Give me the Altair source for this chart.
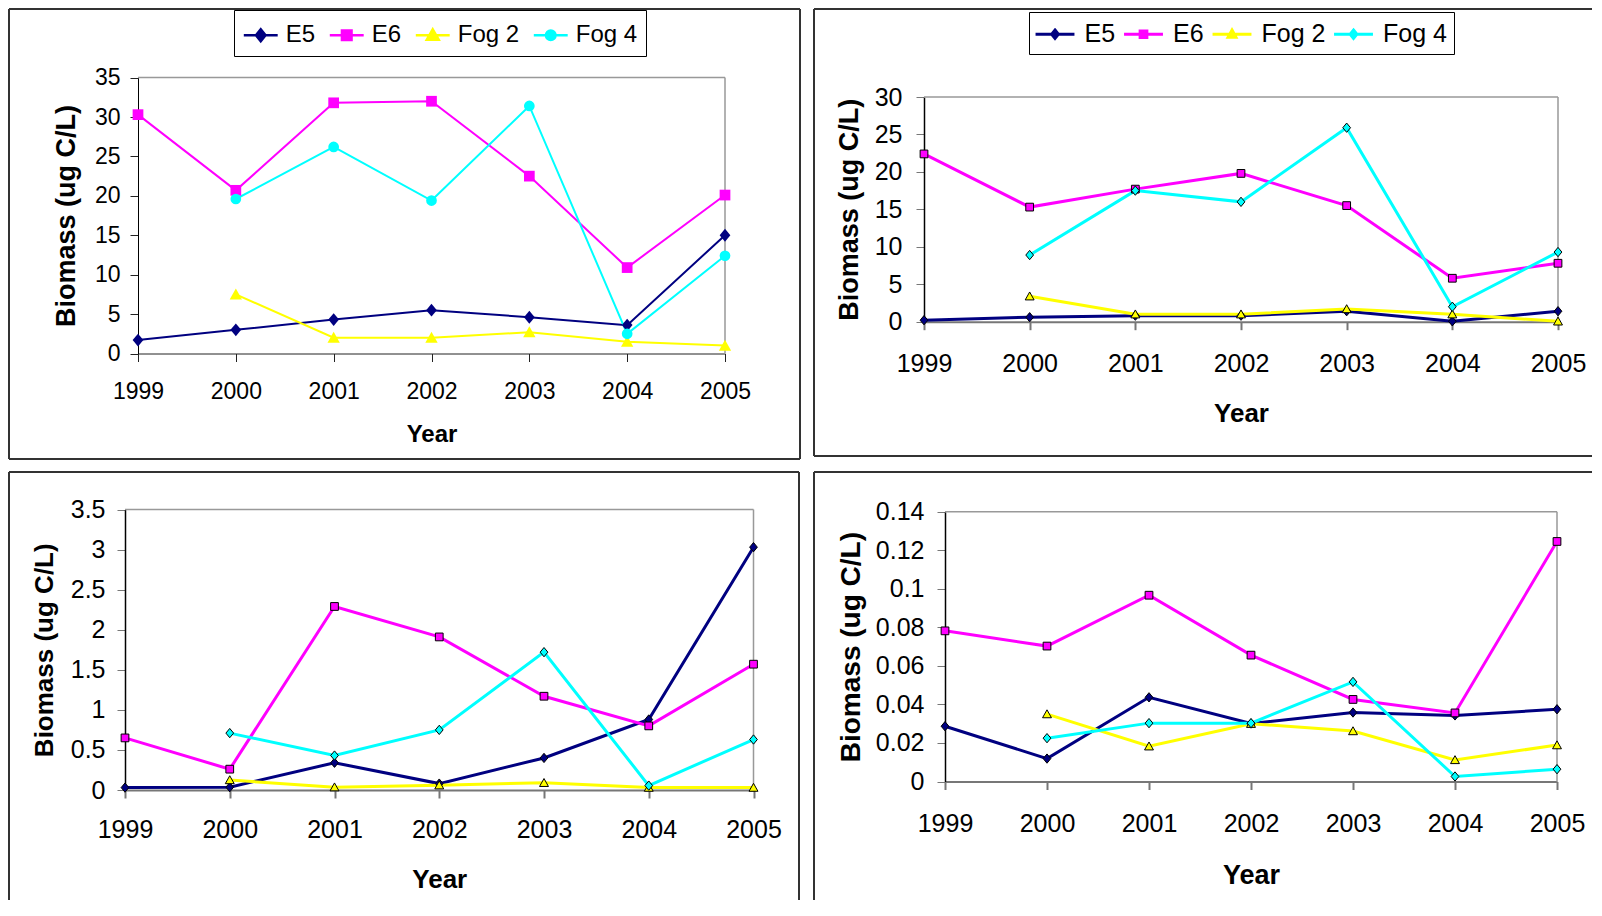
import altair as alt
import pandas as pd

YEARS = [1999, 2000, 2001, 2002, 2003, 2004, 2005]
SERIES = ["E5", "E6", "Fog 2", "Fog 4"]
COLORS = ["#000080", "#FF00FF", "#FFFF00", "#00FFFF"]

# top-left panel
A_E5 = [1.7, 3.0, 4.3, 5.5, 4.6, 3.6, 15.0]
A_E6 = [30.3, 20.7, 31.8, 32.0, 22.5, 10.9, 20.1]
A_FOG2 = [None, 7.5, 2.0, 2.0, 2.7, 1.5, 1.0]
A_FOG4 = [None, 19.6, 26.2, 19.4, 31.4, 2.5, 12.4]
A_TICKS = [0, 5, 10, 15, 20, 25, 30, 35]

# top-right panel
B_E5 = [0.2, 0.6, 0.8, 0.8, 1.4, 0.05, 1.4]
B_E6 = [22.4, 15.3, 17.7, 19.8, 15.5, 5.8, 7.8]
B_FOG2 = [None, 3.4, 1.0, 1.0, 1.7, 1.0, 0.05]
B_FOG4 = [None, 8.9, 17.5, 16.0, 25.9, 2.0, 9.3]
B_TICKS = [0, 5, 10, 15, 20, 25, 30]

# bottom-left panel
C_E5 = [0.03, 0.035, 0.34, 0.08, 0.40, 0.88, 3.03]
C_E6 = [0.65, 0.26, 2.29, 1.91, 1.17, 0.80, 1.57]
C_FOG2 = [None, 0.125, 0.035, 0.06, 0.09, 0.03, 0.03]
C_FOG4 = [None, 0.71, 0.43, 0.75, 1.72, 0.055, 0.63]
C_TICKS = [0, 0.5, 1, 1.5, 2, 2.5, 3, 3.5]

# bottom-right panel
D_E5 = [0.0287, 0.0119, 0.0437, 0.0301, 0.0358, 0.0343, 0.0375]
D_E6 = [0.0782, 0.0703, 0.0967, 0.0656, 0.0426, 0.0356, 0.1246]
D_FOG2 = [None, 0.035, 0.0183, 0.030, 0.0262, 0.0112, 0.0189]
D_FOG4 = [None, 0.0225, 0.0303, 0.0303, 0.0517, 0.0026, 0.0064]
D_TICKS = [0, 0.02, 0.04, 0.06, 0.08, 0.1, 0.12, 0.14]

FONT = "Liberation Sans"
FRAME_COLOR = "#333333"
PLOT_BORDER = "#999999"

DIAMOND = "M0,-1.2L1,0L0,1.2L-1,0Z"
SQUARE = "M-1,-1H1V1H-1Z"
TRIANGLE = "M0,-1.1L1.15,0.95H-1.15Z"
CIRCLE = "circle"

LEG_A_PATHS = [
    "M-1.13,0H1.13M0,-0.4L0.32,0L0,0.4L-0.32,0Z",
    "M-1.13,0H1.13M-0.32,-0.32H0.32V0.32H-0.32Z",
    "M-1.13,0H1.13M0,-0.4L0.4,0.3H-0.4Z",
    "M-1.13,0H1.13M-0.32,0A0.32,0.32 0 1 0 0.32,0A0.32,0.32 0 1 0 -0.32,0Z",
]
LEG_B_PATHS = [
    "M-1.39,0H1.39M0,-0.3L0.24,0L0,0.3L-0.24,0Z",
    "M-1.39,0H1.39M-0.24,-0.24H0.24V0.24H-0.24Z",
    "M-1.39,0H1.39M0,-0.3L0.28,0.22H-0.28Z",
    "M-1.39,0H1.39M0,-0.3L0.24,0L0,0.3L-0.24,0Z",
]


def make_df(series_values):
    rows = []
    for s, vals in zip(SERIES, series_values):
        for yr, v in zip(YEARS, vals):
            if v is not None:
                rows.append({"year": yr, "series": s, "value": v})
    return pd.DataFrame(rows)


def seg(x1, y1, x2, y2, color, width):
    enc = dict(x=alt.value(x1), y=alt.value(y1))
    if x2 != x1:
        enc["x2"] = alt.value(x2)
    if y2 != y1:
        enc["y2"] = alt.value(y2)
    return (
        alt.Chart(alt.Data(values=[{"k": 0}]))
        .mark_rule(color=color, strokeWidth=width)
        .encode(**enc)
    )


def panel(values, ticks, frame, plot, edges, st, lg=None):
    fx, fy, fr, fb = frame
    pl, pt, pr, pb = plot
    W, H = fr - fx, fb - fy
    xl, xr = pl - fx, pr - fx
    yt, yb = pt - fy, pb - fy
    df = make_df(values)
    x = alt.X(
        "year:Q",
        scale=alt.Scale(domain=[1999, 2005], range=[xl, xr], nice=False, zero=False),
        axis=alt.Axis(
            values=YEARS, format="d", title="Year", offset=-(H - yb),
            labelFontSize=st["tfs"], labelPadding=st["xlp"], tickSize=8,
            tickColor=st["xcol"], domainColor=st["xcol"], domainWidth=st["xdw"],
            tickWidth=st["xdw"], titleFontSize=st["xtfs"], titleX=(xl + xr) / 2,
            titleY=st["xty"], titleBaseline="top", titleAlign="center",
            labelFlush=False, labelOverlap=False, grid=False,
        ),
    )
    y = alt.Y(
        "value:Q",
        scale=alt.Scale(domain=[0, ticks[-1]], range=[yb, yt], nice=False, zero=True),
        axis=alt.Axis(
            values=ticks, format="~g", title="Biomass (ug C/L)", offset=-xl,
            labelFontSize=st["tfs"], labelPadding=st["ylp"], tickSize=8,
            tickColor=st["ytcol"], domainColor="black", domainWidth=st["ydw"],
            tickWidth=1, titleFontSize=st["ytfs"], titleX=st["ytx"],
            titleY=(yt + yb) / 2, titleBaseline="bottom", titleAlign="center",
            labelFlush=False, labelOverlap=False, grid=False,
        ),
    )
    color = alt.Color("series:N", scale=alt.Scale(range=COLORS), legend=None)
    base = alt.Chart(df).encode(x=x, y=y)

    layers = []
    if "top" in edges:
        layers.append(seg(0, 0, W, 0, FRAME_COLOR, 2))
    if "bottom" in edges:
        layers.append(seg(0, H, W, H, FRAME_COLOR, 2))
    if "left" in edges:
        layers.append(seg(0, 0, 0, H, FRAME_COLOR, 2))
    if "right" in edges:
        layers.append(seg(W, 0, W, H, FRAME_COLOR, 2))
    # plot-area border (top and right, grey)
    layers.append(seg(xl, yt, xr, yt, PLOT_BORDER, 1.5))
    layers.append(seg(xr, yt, xr, yb, PLOT_BORDER, 1.5))

    layers.append(base.mark_line(strokeWidth=st["lw"]).encode(color=color))
    for s, shp in zip(SERIES, st["shapes"]):
        kw = dict(shape=shp, filled=True, size=st["ms"], opacity=1)
        if st["outline"]:
            kw.update(stroke="black", strokeWidth=1)
        layers.append(
            base.transform_filter(alt.datum.series == s).mark_point(**kw).encode(color=color)
        )
    if lg:
        L = alt.Legend(
            orient="none", legendX=lg["x"] - fx, legendY=lg["y"] - fy,
            direction="horizontal", title=None, labelFont=FONT,
            labelFontSize=lg["fs"], labelColor="black", strokeColor="black",
            fillColor="white", padding=lg["pad"], columnPadding=lg["cp"],
            labelOffset=lg["lo"], symbolOffset=lg["so"], symbolSize=lg["size"],
            symbolStrokeWidth=lg["sw"], symbolOpacity=1,
        )
        cs = alt.Scale(domain=SERIES, range=COLORS)
        ss = alt.Scale(domain=SERIES, range=lg["paths"])
        layers.append(
            base.transform_filter("false")
            .mark_point(filled=True, size=lg["size"], strokeWidth=lg["sw"], opacity=1)
            .encode(
                fill=alt.Fill("series:N", scale=cs, legend=L),
                stroke=alt.Stroke("series:N", scale=cs, legend=L),
                shape=alt.Shape("series:N", scale=ss, legend=L),
            )
        )
    return alt.layer(*layers).properties(width=W, height=H)


ST_A = dict(tfs=23, xlp=18.5, xcol="#222222", xdw=1, xtfs=24, xty=69, ylp=10,
            ytcol="#222222", ydw=1, ytfs=27, ytx=-58, lw=2,
            shapes=[DIAMOND, SQUARE, TRIANGLE, CIRCLE], ms=115, outline=False)
ST_B = dict(tfs=25, xlp=21.5, xcol="#777777", xdw=2, xtfs=26, xty=79, ylp=14,
            ytcol="#777777", ydw=1.5, ytfs=27, ytx=-61, lw=3,
            shapes=[DIAMOND, SQUARE, TRIANGLE, DIAMOND], ms=60, outline=True)
ST_C = dict(ST_B, xlp=19, xty=76, ylp=12, ytx=-68, ytfs=26)
ST_D = dict(ST_B, xlp=22, xty=81, ylp=13, ytx=-80, xtfs=27, ytfs=28)

LG_A = dict(x=234, y=10, fs=24, pad=8.5, cp=9, lo=8.5, so=1.75, size=900, sw=2.5,
            paths=LEG_A_PATHS)
LG_B = dict(x=1029, y=12, fs=25, pad=6.5, cp=2.5, lo=14, so=4, size=784, sw=3,
            paths=LEG_B_PATHS)

p1 = panel([A_E5, A_E6, A_FOG2, A_FOG4], A_TICKS, (9, 9, 800, 459),
           (138, 77.6, 725, 353.5), ["top", "bottom", "left", "right"], ST_A, LG_A)
p2 = panel([B_E5, B_E6, B_FOG2, B_FOG4], B_TICKS, (814, 9, 1592, 456),
           (924, 97, 1558, 321.7), ["top", "bottom", "left"], ST_B, LG_B)
p3 = panel([C_E5, C_E6, C_FOG2, C_FOG4], C_TICKS, (9, 472, 799, 900),
           (125, 509.5, 753.5, 790), ["top", "left", "right"], ST_C)
p4 = panel([D_E5, D_E6, D_FOG2, D_FOG4], D_TICKS, (814, 472, 1592, 900),
           (945, 511.8, 1557, 781.5), ["top", "left"], ST_D)

IND = dict(color="independent", fill="independent", stroke="independent",
           shape="independent")

row1 = alt.hconcat(p1, p2, spacing=12).resolve_scale(**IND).resolve_legend(**IND)
row2 = alt.hconcat(p3, p4, spacing=13).resolve_scale(**IND).resolve_legend(**IND)
chart = (
    alt.vconcat(row1, row2, spacing=11)
    .resolve_scale(**IND)
    .resolve_legend(**IND)
    .properties(padding=0)
    .configure(font=FONT)
    .configure_view(stroke="transparent", strokeWidth=0)
    .configure_axis(labelFont=FONT, titleFont=FONT, labelColor="black",
                    titleColor="black", titleFontWeight="bold", grid=False)
)
chart.save("out.html", embed_options={"renderer": "svg", "actions": False})
